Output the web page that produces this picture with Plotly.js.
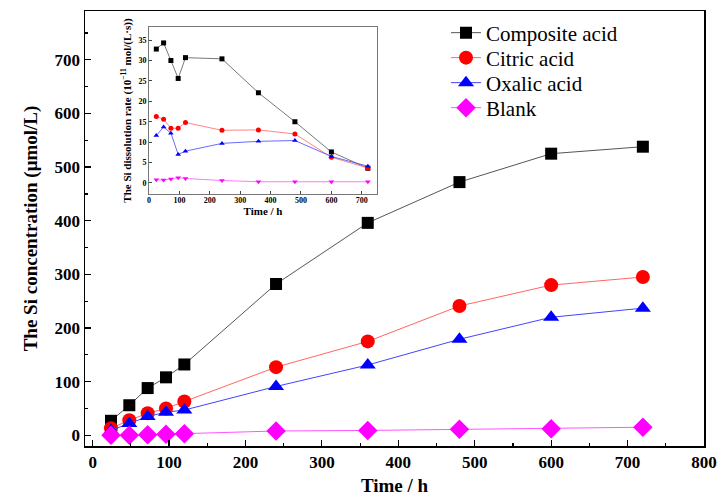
<!DOCTYPE html>
<html><head><meta charset="utf-8">
<script src="https://cdn.plot.ly/plotly-3.0.1.min.js"></script>
<style>body{margin:0;background:#fff}#plot{width:720px;height:499px}</style>
</head><body><div id="plot"></div>
<script>
const time = [24, 48, 72, 96, 120, 240, 360, 480, 600, 720];
const names = ["Composite acid", "Citric acid", "Oxalic acid", "Blank"];
const concComposite = [27, 56, 88, 108, 132, 282, 396, 472, 525, 538];
const concCitric = [13, 28, 41, 50, 63, 127, 175, 241, 280, 295];
const concOxalic = [9, 22, 35, 43, 47, 91, 131, 179, 220, 237];
const concBlank = [0, 0, 1, 2, 3, 8, 9, 11, 12, 15];
const rateComposite = [32.8, 34.3, 30.0, 25.6, 30.7, 30.4, 22.1, 15.0, 7.6, 3.6];
const rateCitric = [16.3, 15.6, 13.4, 13.4, 14.8, 12.9, 13.0, 12.0, 6.3, 3.7];
const rateOxalic = [11.6, 13.7, 12.2, 7.0, 7.8, 9.7, 10.2, 10.4, 6.5, 4.1];
const rateBlank = [0.8, 0.7, 1.0, 1.3, 1.1, 0.6, 0.3, 0.3, 0.3, 0.3];

const markerCol = ["#000000", "#ff0000", "#0000ff", "#ff00ff"];
const lineCol = ["#555555", "#ff6666", "#4444ff", "#ff55ff"];
const symMain = ["square", "circle", "triangle-up", "diamond"];
const sizeMain = [12, 14, 14, 15];
const symInset = ["square", "circle", "triangle-up", "triangle-down"];
const concAll = [concComposite, concCitric, concOxalic, concBlank];
const rateAll = [rateComposite, rateCitric, rateOxalic, rateBlank];
const legendIds = ["legend", "legend2", "legend3", "legend4"];

const traces = [];
for (let i = 0; i < 4; i++) {
  traces.push({
    x: time, y: concAll[i], name: names[i], type: "scatter", mode: "lines+markers",
    legend: legendIds[i],
    line: {color: lineCol[i], width: 1},
    marker: {symbol: symMain[i], size: sizeMain[i], color: markerCol[i]},
    xaxis: "x", yaxis: "y"
  });
}
for (let i = 0; i < 4; i++) {
  traces.push({
    x: time, y: rateAll[i], name: names[i], type: "scatter", mode: "lines+markers",
    showlegend: false,
    line: {color: lineCol[i], width: 0.8},
    marker: {symbol: symInset[i], size: 5, color: markerCol[i]},
    xaxis: "x2", yaxis: "y2"
  });
}

const serif = "Liberation Serif, Times New Roman, serif";
const legendRowsY = [0.9494, 0.8920, 0.8345, 0.7770];
function mkLegend(yy) {
  return {x: 0.5832, y: yy, xanchor: "left", yanchor: "middle",
    font: {family: serif, size: 21, color: "#000"}, bgcolor: "rgba(0,0,0,0)"};
}
const layout = {
  width: 720, height: 499,
  margin: {l: 85, r: 16, t: 11, b: 53},
  paper_bgcolor: "#fff", plot_bgcolor: "#fff",
  font: {family: serif, color: "#000"},
  showlegend: true,
  legend: mkLegend(legendRowsY[0]),
  legend2: mkLegend(legendRowsY[1]),
  legend3: mkLegend(legendRowsY[2]),
  legend4: mkLegend(legendRowsY[3]),
  xaxis: {
    domain: [0, 1], range: [-10, 800], dtick: 100, tick0: 0,
    ticks: "inside", ticklen: 6, tickwidth: 1.2, tickcolor: "#000",
    minor: {dtick: 50, ticks: "inside", ticklen: 3, tickcolor: "#000"},
    showline: true, mirror: true, linecolor: "#000", linewidth: 1.5,
    showgrid: false, zeroline: false,
    tickfont: {family: serif, size: 17, color: "#000", weight: "bold"},
    title: {text: "<b>Time / h</b>", font: {family: serif, size: 19, color: "#000"}, standoff: 8}
  },
  yaxis: {
    domain: [0, 1], range: [-20, 791], dtick: 100, tick0: 0,
    ticks: "inside", ticklen: 6, tickwidth: 1.2, tickcolor: "#000",
    minor: {dtick: 50, ticks: "inside", ticklen: 3, tickcolor: "#000"},
    showline: true, mirror: true, linecolor: "#000", linewidth: 1.5,
    showgrid: false, zeroline: false,
    tickfont: {family: serif, size: 17, color: "#000", weight: "bold"},
    title: {text: "<b>The Si concentration (μmol/L)</b>", font: {family: serif, size: 19, color: "#000"}, standoff: 12}
  },
  xaxis2: {
    domain: [0.1034, 0.4717], anchor: "y2", range: [0, 750], dtick: 100, tick0: 0,
    ticks: "inside", ticklen: 3, tickcolor: "#444",
    showline: true, mirror: true, linecolor: "#777", linewidth: 1,
    showgrid: false, zeroline: false, ticklabelstandoff: -2,
    tickfont: {family: serif, size: 8, color: "#000", weight: "bold"},
    title: {text: "<b>Time / h</b>", font: {family: serif, size: 11, color: "#000"}, standoff: 0}
  },
  yaxis2: {
    domain: [0.5793, 0.9632], anchor: "x2", range: [-2.7, 38.2], dtick: 5, tick0: 0,
    ticks: "inside", ticklen: 3, tickcolor: "#444",
    showline: true, mirror: true, linecolor: "#777", linewidth: 1,
    showgrid: false, zeroline: false,
    tickfont: {family: serif, size: 8, color: "#000", weight: "bold"},
    title: {text: "<b>The Si dissolution rate (10<sup>−11</sup> mol/(L·s))</b>", font: {family: serif, size: 11, color: "#000"}, standoff: 4}
  }
};
Plotly.newPlot("plot", traces, layout, {displayModeBar: false, staticPlot: true});
</script></body></html>
